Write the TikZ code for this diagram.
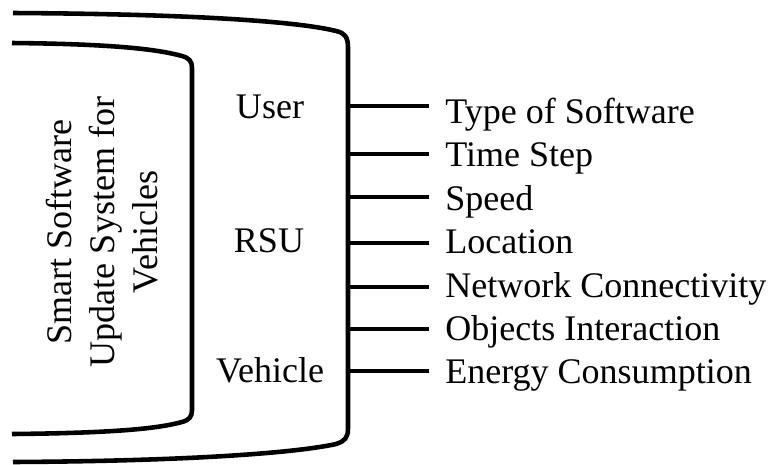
\documentclass[tikz,border=0pt]{standalone}
\usepackage{fontspec}
\setmainfont{Liberation Serif}
\usetikzlibrary{positioning}

\begin{document}
\begin{tikzpicture}[
    x=0.02cm, y=-0.02cm,
    every node/.style={font=\fontsize{20.5}{24.5}\selectfont},
    frame/.style={draw, line width=2.6pt},
    tick/.style={draw, line width=2.6pt, shorten >=0.32cm},
    param/.style={anchor=base west, inner xsep=0pt, inner ysep=2pt},
    role/.style={anchor=base, align=center}
  ]
  \useasboundingbox (0,0) rectangle (768,464);

  % outer shell
  \draw[frame] (13,13) .. controls (200,14) and (300,22) .. (336,31)
    .. controls (345,33) and (348,37) .. (348,48) -- (348,428)
    .. controls (348,438) and (345,441) .. (336,444)
    .. controls (300,452) and (200,461) .. (13,462);

  % inner shell
  \draw[frame] (12,43) .. controls (120,44) and (160,50) .. (182,56)
    .. controls (189,58) and (192,61) .. (192,68) -- (192,410)
    .. controls (192,417) and (189,420) .. (182,422)
    .. controls (160,428) and (120,433) .. (12,434);

  \node[align=center, rotate=90] (system) at (102,232)
    {Smart Software\\Update System for\\Vehicles};

  \node[role] (user) at (270,118) {User};
  \node[role] (rsu) at (269,252) {RSU};
  \node[role] (vehicle) at (270,382) {Vehicle};

  % parameters
  \coordinate (p1) at (348,106);
  \coordinate (p2) at (348,154);
  \coordinate (p3) at (348,197);
  \coordinate (p4) at (348,243);
  \coordinate (p5) at (348,287);
  \coordinate (p6) at (348,329);
  \coordinate (p7) at (348,371);

  \node[param] (software) at (445,123) {Type of Software};
  \node[param] (timestep) at (445,166) {Time Step};
  \node[param] (speed) at (445,210) {Speed};
  \node[param] (location) at (445,253) {Location};
  \node[param] (network) at (445,297) {Network Connectivity};
  \node[param] (objects) at (445,340) {Objects Interaction};
  \node[param] (energy) at (445,383) {Energy Consumption};

  \draw[tick] (p1) -- (p1 -| software.west);
  \draw[tick] (p2) -- (p2 -| timestep.west);
  \draw[tick] (p3) -- (p3 -| speed.west);
  \draw[tick] (p4) -- (p4 -| location.west);
  \draw[tick] (p5) -- (p5 -| network.west);
  \draw[tick] (p6) -- (p6 -| objects.west);
  \draw[tick] (p7) -- (p7 -| energy.west);
\end{tikzpicture}
\end{document}
